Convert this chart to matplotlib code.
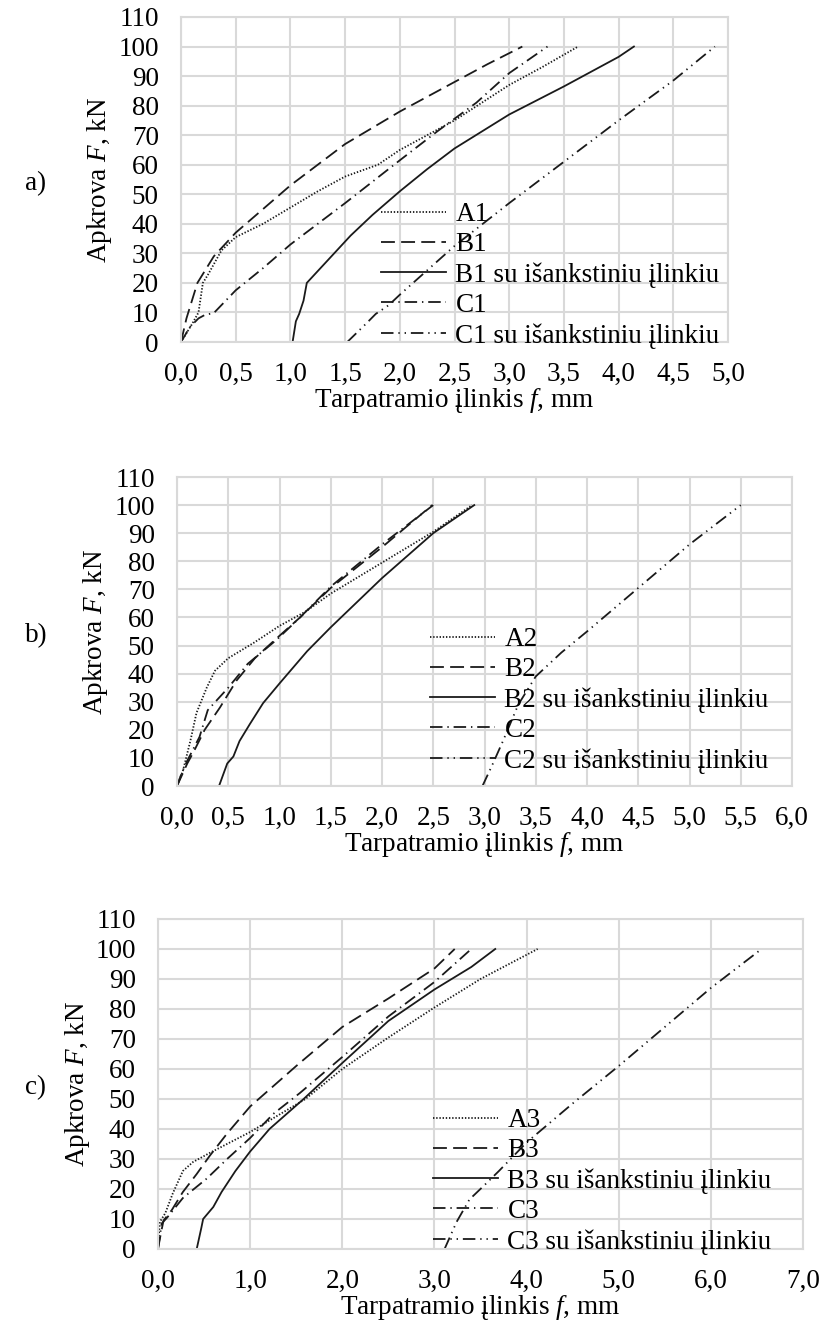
import matplotlib
matplotlib.use("Agg")
import matplotlib.pyplot as plt
from matplotlib.ticker import FixedLocator, FuncFormatter

plt.rcParams['font.family'] = ['Liberation Serif', 'DejaVu Serif']
plt.rcParams['mathtext.fontset'] = 'custom'
plt.rcParams['mathtext.rm'] = 'Liberation Serif'
plt.rcParams['mathtext.it'] = 'Liberation Serif:italic'
plt.rcParams['lines.scale_dashes'] = False

# ---- a) ----
a_A_x = [0, 0.1, 0.16, 0.2, 0.25, 0.37, 0.5, 0.75, 1.0, 1.25, 1.5, 1.8, 2.0, 2.5, 3.0, 3.3, 3.63]
a_A_y = [0, 6, 10, 20, 23, 31, 35.5, 40, 45.5, 51, 56, 60, 65, 75, 87, 93, 100]
a_B_x = [0, 0.05, 0.1, 0.15, 0.3, 0.5, 0.75, 1.0, 1.5, 2.0, 2.5, 2.8, 3.12]
a_B_y = [0, 8, 14, 20, 29, 37, 45, 53, 67, 78, 88, 94, 100]
a_Bs_x = [1.02, 1.05, 1.08, 1.12, 1.15, 1.2, 1.3, 1.45, 1.55, 1.75, 2.0, 2.25, 2.5, 3.0, 3.5, 4.0, 4.14]
a_Bs_y = [0, 7, 9.5, 14, 20, 22, 26, 32, 36, 43, 51, 58.5, 65.5, 77, 86.5, 96.5, 100]
a_C_x = [0, 0.08, 0.16, 0.22, 0.3, 0.5, 0.75, 1.0, 1.5, 2.0, 2.35, 2.7, 3.0, 3.35]
a_C_y = [0, 5, 8, 9.2, 9.8, 17.5, 25, 33, 47, 61.5, 71.5, 81, 91, 100]
a_Cs_x = [1.52, 1.7, 1.78, 1.9, 2.0, 2.5, 3.0, 3.5, 4.0, 4.5, 4.88]
a_Cs_y = [0, 6.5, 9.5, 12.5, 16, 32.5, 47, 61, 75, 88.5, 100]

# ---- b) ----
b_A_x = [0, 0.06, 0.13, 0.19, 0.29, 0.37, 0.5, 0.75, 1.0, 1.25, 1.5, 2.0, 2.5, 2.88]
b_A_y = [0, 5.7, 16, 26, 35, 41, 45.5, 51, 57, 62, 68.5, 79.5, 90.5, 100]
b_B_x = [0, 0.05, 0.1, 0.16, 0.27, 0.42, 0.58, 0.76, 0.97, 1.2, 1.5, 2.0, 2.49]
b_B_y = [0, 4, 8, 12, 20, 28, 37.5, 45.5, 52.5, 60, 70.5, 85, 100]
b_Bs_x = [0.41, 0.49, 0.55, 0.61, 0.71, 0.84, 1.0, 1.27, 1.5, 2.0, 2.5, 2.9]
b_Bs_y = [0, 8, 10.5, 16, 22, 29.5, 36.5, 48, 56.5, 74, 90, 100]
b_C_x = [0, 0.05, 0.1, 0.22, 0.3, 0.5, 0.69, 0.97, 1.2, 1.5, 2.0, 2.5]
b_C_y = [0, 5, 9, 17.5, 27, 35, 43.5, 52, 60, 71, 86, 100]
b_Cs_x = [2.98, 3.07, 3.18, 3.33, 3.5, 3.75, 4.0, 4.5, 5.0, 5.5]
b_Cs_y = [0, 7, 16, 29, 39, 47.5, 55, 70.5, 86, 100]

# ---- c) ----
c_A_x = [0, 0.02, 0.08, 0.16, 0.27, 0.38, 0.56, 1.0, 1.6, 2.0, 2.5, 3.0, 3.5, 4.12]
c_A_y = [0, 9, 12, 18.5, 26, 29, 32, 39, 50, 60, 70.5, 80.5, 90, 100]
c_B_x = [0, 0.03, 0.06, 0.15, 0.27, 0.42, 0.56, 0.75, 1.0, 1.5, 2.0, 2.5, 3.0, 3.22]
c_B_y = [0, 5, 9.5, 13, 19, 25, 31, 38.5, 47.5, 61, 74, 83.5, 93.5, 100]
c_Bs_x = [0.42, 0.47, 0.49, 0.6, 0.69, 0.84, 1.0, 1.21, 1.58, 2.0, 2.5, 3.0, 3.4, 3.66]
c_Bs_y = [0, 7, 10, 14, 19, 26, 32.5, 40, 50, 62, 76, 86.5, 94, 100]
c_C_x = [0, 0.04, 0.1, 0.27, 0.53, 0.75, 1.0, 1.25, 1.54, 2.0, 2.5, 3.0, 3.4]
c_C_y = [0, 8.5, 10.5, 17, 23.5, 30, 37, 45, 52, 64, 77.5, 89, 100]
c_Cs_x = [3.11, 3.24, 3.38, 3.55, 3.7, 4.0, 4.5, 5.0, 5.5, 6.0, 6.55]
c_Cs_y = [0, 9, 16.5, 21.5, 26, 35.5, 48.5, 61, 74, 87, 100]

y_ticks = list(range(0, 111, 10))
suffixes = ["", "", " su išankstiniu įlinkiu", "", " su išankstiniu įlinkiu"]
prefixes = ["A", "B", "B", "C", "C"]

styles = [(0, (1, 1.3)), (0, (10, 4.5)), '-', (0, (9, 3.5, 1, 3.5)),
          (0, (9, 3.5, 1, 3.5, 1, 3.5))]

panels = [
    dict(tag="a)", n="1", rect=[181, 17, 728, 342], xmax=5.0, step=0.5,
         series=[(a_A_x, a_A_y), (a_B_x, a_B_y), (a_Bs_x, a_Bs_y), (a_C_x, a_C_y), (a_Cs_x, a_Cs_y)],
         leg=(381, 202), ylab=100),
    dict(tag="b)", n="2", rect=[177, 477, 792, 786], xmax=6.0, step=0.5,
         series=[(b_A_x, b_A_y), (b_B_x, b_B_y), (b_Bs_x, b_Bs_y), (b_C_x, b_C_y), (b_Cs_x, b_Cs_y)],
         leg=(430, 627), ylab=95),
    dict(tag="c)", n="3", rect=[158, 919, 803, 1249], xmax=7.0, step=1.0,
         series=[(c_A_x, c_A_y), (c_B_x, c_B_y), (c_Bs_x, c_Bs_y), (c_C_x, c_C_y), (c_Cs_x, c_Cs_y)],
         leg=(433, 1108), ylab=78),
]

W, H = 823, 1330
fig = plt.figure(figsize=(W / 100, H / 100), dpi=100)
fs = 19.5
grid_col = '#d9d9d9'
line_col = '#1a1a1a'

for p in panels:
    l, t, r, b = p["rect"]
    ax = fig.add_axes([l / W, 1 - b / H, (r - l) / W, (b - t) / H])
    for i, (xs, ys) in enumerate(p["series"]):
        ax.plot(xs, ys, color=line_col, lw=1.3, linestyle=styles[i],
                label=prefixes[i] + p["n"] + suffixes[i])
    ax.set_xlim(0, p["xmax"])
    ax.set_ylim(0, 110)
    n_x = int(round(p["xmax"] / p["step"]))
    xt = [k * p["step"] for k in range(n_x + 1)]
    ax.xaxis.set_major_locator(FixedLocator(xt))
    ax.yaxis.set_major_locator(FixedLocator(y_ticks))
    ax.xaxis.set_major_formatter(FuncFormatter(lambda v, pos: f"{v:.1f}".replace(".", ",")))
    ax.grid(True, color=grid_col, lw=1.5)
    ax.set_axisbelow(True)
    for s in ax.spines.values():
        s.set_color(grid_col)
        s.set_linewidth(1.5)
    ax.tick_params(length=0, labelsize=fs)
    ax.tick_params(axis='x', pad=14)
    ax.tick_params(axis='y', pad=16)
    ax.set_xlabel("Tarpatramio įlinkis $f$, mm", fontsize=fs, labelpad=0)
    ax.set_ylabel("Apkrova $F$, kN", fontsize=fs, va='center')
    ax.yaxis.set_label_coords((p["ylab"] - l) / (r - l), 0.5)
    lx, ly = p["leg"]
    ax.legend(loc='upper left', bbox_to_anchor=((lx - l) / (r - l), (b - ly) / (b - t)),
              frameon=False, fontsize=fs, borderpad=0, borderaxespad=0,
              handlelength=2.4, handletextpad=0.35, labelspacing=0.19)
    fig.text(25 / W, 1 - ((t + b) / 2 + 4) / H, p["tag"], fontsize=fs, ha='left', va='center')

fig.savefig("out.png", dpi=100)
